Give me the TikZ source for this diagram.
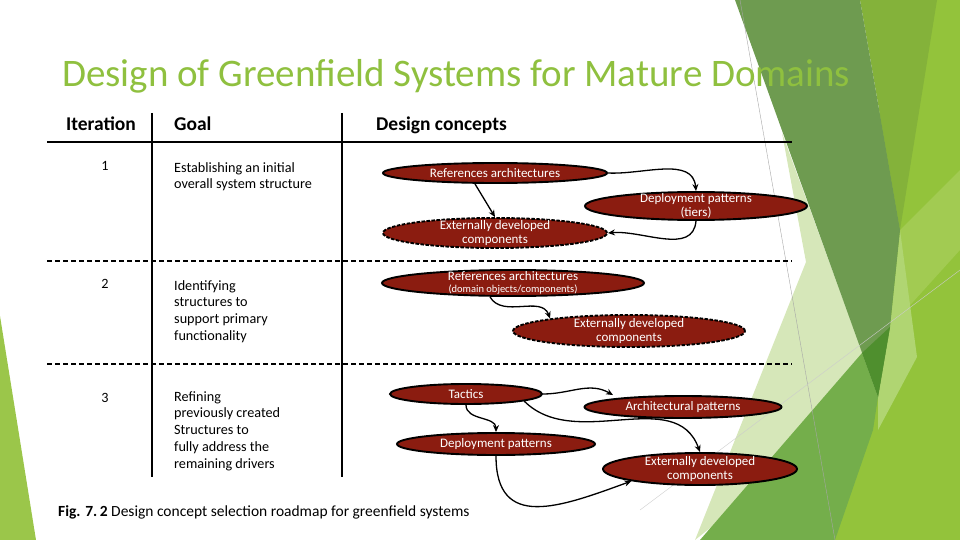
\documentclass[tikz,border=0pt]{standalone}
\usepackage{fontspec}
\setmainfont{Carlito}
\usetikzlibrary{positioning,shapes,arrows.meta}

\definecolor{titlegreen}{RGB}{143,192,63}
\definecolor{conceptred}{RGB}{139,28,16}
\definecolor{facetpale}{RGB}{214,231,185}
\definecolor{facetlime}{RGB}{147,195,59}
\definecolor{facetsoft}{RGB}{162,203,82}
\definecolor{facetsliver}{RGB}{176,213,114}
\definecolor{facetmid}{RGB}{132,178,58}
\definecolor{facetdark}{RGB}{110,155,80}
\definecolor{facetlow}{RGB}{116,174,75}
\definecolor{facetdeep}{RGB}{79,143,46}
\definecolor{facetleft}{RGB}{155,198,74}

\begin{document}
\begin{tikzpicture}[
  x=1pt, y=1pt,
  title/.style={font=\fontsize{39}{44}\selectfont, text=titlegreen, inner sep=0pt},
  head/.style={font=\fontsize{19.5}{22}\selectfont\bfseries, inner sep=0pt},
  cell/.style={font=\fontsize{14.2}{16.8}\selectfont, align=left, inner sep=0pt},
  concept/.style={
    ellipse, draw, line width=1.9pt,
    fill=conceptred, text=white,
    font=\fontsize{13}{14}\selectfont, align=center,
    inner xsep=0pt, inner ysep=-8pt,
  },
  external/.style={concept, dash pattern=on 3.5pt off 1.5pt},
  rule/.style={line width=1.6pt},
  sep/.style={line width=1.4pt, dash pattern=on 5pt off 3pt},
  link/.style={-{Stealth[length=7pt,width=6pt]}, line width=1.3pt},
]
\useasboundingbox (0,0) rectangle (960,-540);

% background facets
\fill[facetleft] (0,-316) -- (36,-540) -- (0,-540) -- cycle;
\fill[facetpale] (782,-133) -- (806,-262) -- (695,-540) -- (878,-395) -- cycle;
\fill[facetlime] (880,0) -- (960,0) -- (960,-540) -- (790,-540) -- (878,-395) -- cycle;
\fill[facetsoft] (900,-230) -- (960,-170) -- (960,-250) -- (903,-313) -- cycle;
\fill[facetsliver] (900,-230) -- (917,-357) -- (878,-430) -- (878,-397) -- (890,-327) -- cycle;
\fill[facetmid] (860,0) -- (937,0) -- (900,-230) -- cycle;
\fill[facetdark] (735,0) -- (860,0) -- (900,-230) -- (890,-327) -- (878,-397) -- cycle;
\fill[facetlow] (700,-540) -- (862,-353) -- (878,-397) -- (873,-430) -- (835,-540) -- cycle;
\fill[facetdeep] (862,-353) -- (890,-327) -- (878,-397) -- cycle;
\draw[black!35, line width=0.4pt] (740,0) -- (835,-540);
\draw[black!20, line width=0.4pt] (640,-510) -- (960,-270);

\node[title, anchor=base west] (ttl) at (62,-87)
  {Design of Greenfield Systems for Mature Domains};

% table
\draw[rule] (47,-142) -- (792,-142);
\draw[rule] (152,-113) -- (152,-477);
\draw[rule] (342,-113) -- (342,-477);
\draw[sep] (47,-261) -- (792,-261);
\draw[sep] (47,-364) -- (792,-364);

\node[head, anchor=base] (hiter) at (101,-131) {Iteration};
\node[head, anchor=base west] (hgoal) at (174,-131) {Goal};
\node[head, anchor=base west] (hdesign) at (376,-131) {Design concepts};

\node[cell] (n1) at (105,-166) {1};
\node[cell] (n2) at (105,-284) {2};
\node[cell] (n3) at (105,-398) {3};

\node[cell, anchor=north west] (g1) at (174,-162)
  {Establishing an initial\\overall system structure};
\node[cell, anchor=north west] (g2) at (174,-280)
  {Identifying\\structures to\\support primary\\functionality};
\node[cell, anchor=north west] (g3) at (174,-391)
  {Refining\\previously created\\Structures to\\fully address the\\remaining drivers};

% iteration 1
\node[concept, minimum width=224pt, minimum height=20pt] (ra1) at (495,-173)
  {References architectures};
\node[concept, minimum width=222pt, minimum height=28pt] (dp1) at (696,-206)
  {Deployment patterns\\(tiers)};
\node[external, minimum width=224pt, minimum height=30pt] (ed1) at (495,-233)
  {Externally developed\\components};

\draw[link] ([xshift=-20pt]ra1.south) -- (ed1.north);
\draw[link] (ra1.east) to[out=-3,in=95] (dp1.north);
\draw[link] (dp1.south) to[out=-95,in=5] (ed1.east);

% iteration 2
\node[concept, minimum width=262pt, minimum height=26pt, font=\fontsize{13}{12}\selectfont] (ra2) at (513,-283)
  {References architectures\\{\fontsize{10.5}{11}\selectfont(domain objects/components)}};
\node[external, minimum width=232pt, minimum height=32pt] (ed2) at (629,-331)
  {Externally developed\\components};

\draw[link] ([xshift=-23pt]ra2.south) to[out=-60,in=110] (ed2.171);

% iteration 3
\node[concept, minimum width=152pt, minimum height=20pt] (tac) at (466,-394)
  {Tactics};
\node[concept, minimum width=197pt, minimum height=22pt] (arc3) at (683,-407)
  {Architectural patterns};
\node[concept, minimum width=198pt, minimum height=22pt] (dp3) at (496,-444)
  {Deployment patterns};
\node[concept, minimum width=194pt, minimum height=32pt] (ed3) at (700,-469)
  {Externally developed\\components};

\draw[link] (tac.east) to[out=0,in=150] ([xshift=-70pt]arc3.north);
\draw[link] (tac.south) to[out=-90,in=90] (dp3.north);
\draw[link] (tac.-7) to[out=-45,in=110] (ed3.north);
\draw[link] (dp3.south) to[out=-90,in=200,looseness=1.4] (ed3.-170);

\node[cell, anchor=base west, font=\fontsize{15.5}{17}\selectfont] (cap) at (58,-516)
  {\textbf{Fig. 7.\,2} Design concept selection roadmap for greenfield systems};

\end{tikzpicture}
\end{document}
